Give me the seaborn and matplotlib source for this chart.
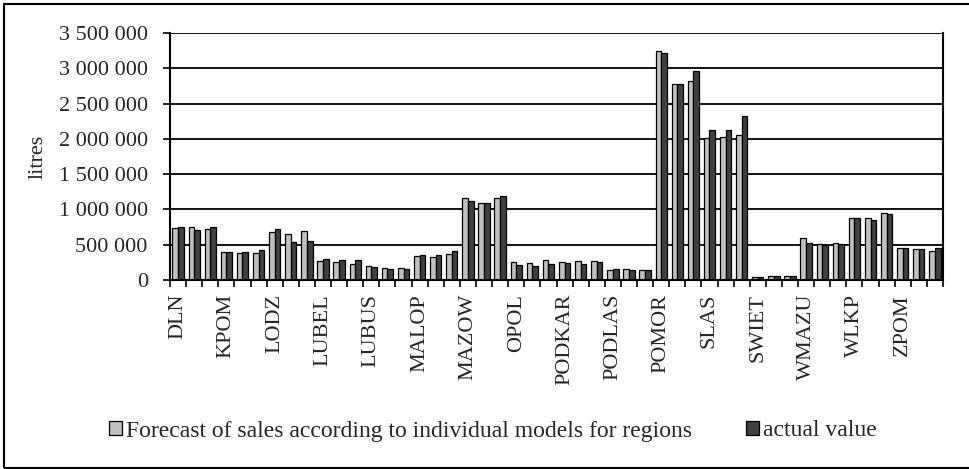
import matplotlib
matplotlib.use("Agg")
import matplotlib.pyplot as plt
import seaborn as sns
import pandas as pd
import numpy as np
from matplotlib.patches import Rectangle, Patch

regions = ["DLN", "KPOM", "LODZ", "LUBEL", "LUBUS", "MALOP", "MAZOW", "OPOL",
           "PODKAR", "PODLAS", "POMOR", "SLAS", "SWIET", "WMAZU", "WLKP", "ZPOM"]

forecast = [739000, 748000, 729000,
            393000, 388000, 383000,
            677000, 658000, 691000,
            275000, 256000, 232000,
            194000, 170000, 170000,
            346000, 331000, 374000,
            1160000, 1098000, 1155000,
            256000, 241000, 284000,
            251000, 265000, 275000,
            147000, 152000, 147000,
            3243000, 2775000, 2817000,
            2017000, 2031000, 2055000,
            43000, 52000, 57000,
            597000, 511000, 526000,
            881000, 876000, 956000,
            459000, 436000, 412000]

actual = [753000, 705000, 748000,
          402000, 402000, 431000,
          724000, 540000, 559000,
          294000, 279000, 289000,
          185000, 161000, 156000,
          355000, 350000, 412000,
          1117000, 1094000, 1193000,
          213000, 204000, 227000,
          237000, 227000, 251000,
          156000, 137000, 147000,
          3210000, 2775000, 2959000,
          2131000, 2131000, 2330000,
          47000, 52000, 52000,
          530000, 492000, 516000,
          876000, 852000, 938000,
          450000, 445000, 459000]

series_names = ["Forecast of sales according to individual models for regions", "actual value"]
colors = ["#c0c0c0", "#404040"]

n = len(forecast)
cat_ids = [f"c{i:02d}" for i in range(n)]
df = pd.DataFrame({
    "cat": cat_ids * 2,
    "value": forecast + actual,
    "series": [series_names[0]] * n + [series_names[1]] * n,
})

sns.set_style("white")
plt.rcParams["font.family"] = ["Liberation Serif", "DejaVu Serif"]

fig = plt.figure(figsize=(9.69, 4.69), dpi=100)
ax = fig.add_axes([170 / 969, 1 - 280 / 469, (943 - 170) / 969, (280 - 33) / 469])

sns.barplot(data=df, x="cat", y="value", hue="series", order=cat_ids,
            hue_order=series_names, palette=colors, width=0.7, ax=ax,
            edgecolor="black", linewidth=0.9, legend=False, saturation=1)

ax.set_xlim(-0.5, n - 0.5)
ax.set_ylim(0, 3500000)
yt = np.arange(0, 3500001, 500000)
ax.set_yticks(yt)
ax.set_yticklabels([f"{v:,}".replace(",", " ") for v in yt], fontsize=16)
ax.yaxis.grid(True, color="black", linewidth=1.3)
ax.set_axisbelow(True)

ax.set_xticks(np.arange(-0.5, n, 1.0))
ax.set_xticklabels([])
ax.set_xticks(np.arange(0, n, 3), minor=True)
ax.set_xticklabels(regions, minor=True, rotation=90, fontsize=16)
ax.tick_params(axis="x", which="major", direction="out", length=5, width=1.2, color="black", bottom=True)
ax.tick_params(axis="x", which="minor", length=0, pad=10)
ax.tick_params(axis="y", direction="out", length=5, width=1.2, color="black", left=True, pad=11)

for s in ["left", "right", "bottom"]:
    ax.spines[s].set_visible(True)
    ax.spines[s].set_color("black")
    ax.spines[s].set_linewidth(1.5)
ax.spines["top"].set_visible(False)

ax.set_xlabel("")
ax.set_ylabel("litres", fontsize=16, labelpad=8)

handles = [Patch(facecolor=colors[0], edgecolor="black", linewidth=0.9),
           Patch(facecolor=colors[1], edgecolor="black", linewidth=0.9)]
fig.legend(handles, series_names, loc="center", bbox_to_anchor=(493 / 969, 1 - 431 / 469),
           ncol=2, frameon=False, fontsize=17, handlelength=0.55, handleheight=0.55,
           handletextpad=0.15, columnspacing=2.3)

fig.patches.append(Rectangle((4 / 969, 1.5 / 469), 1.1, 1 - 5.5 / 469, transform=fig.transFigure,
                             fill=False, edgecolor="black", linewidth=1.5))

fig.savefig("out.png", dpi=100)
